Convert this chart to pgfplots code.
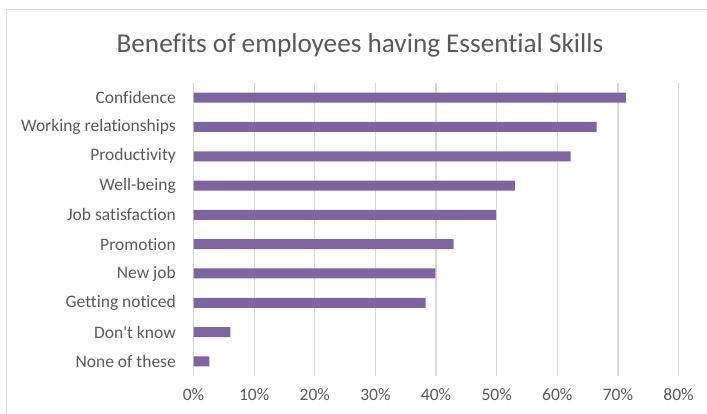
\documentclass[border=0pt]{standalone}
\usepackage{pgfplots}
\pgfplotsset{compat=1.18}
\usepackage{fontspec}
\setmainfont{Carlito}[Ligatures=NoCommon]
\definecolor{barc}{HTML}{8064A2}
\definecolor{gridc}{HTML}{D9D9D9}
\definecolor{txt}{HTML}{595959}
\begin{document}
\begin{tikzpicture}
\path[use as bounding box] (0,0) rectangle (707bp,414bp);
\draw[gridc, line width=1bp] (707bp,404bp) -- (6.5bp,404bp) -- (6.5bp,0);
\node[txt, font=\fontsize{27.2bp}{32bp}\selectfont, anchor=center] at (360bp,369bp) {Benefits of employees having Essential Skills};
\begin{axis}[
  at={(193.5bp,38bp)}, anchor=south west,
  scale only axis, width=485.1bp, height=293bp,
  xbar, bar width=10bp,
  xmin=0, xmax=80, ymin=-0.5, ymax=9.5,
  y dir=reverse,
  axis line style={draw=none},
  major tick length=0,
  xmajorgrids, grid style={gridc, line width=1.2bp},
  xtick={0,10,...,80},
  xticklabels={0\%,10\%,20\%,30\%,40\%,50\%,60\%,70\%,80\%},
  ytick={0,...,9},
  yticklabels={Confidence,Working relationships,Productivity,Well-being,Job satisfaction,Promotion,New job\hspace{5bp},Getting noticed\hspace{3.5bp},Don\textquotesingle t know,None of these},
  ticklabel style={font=\fontsize{17.5bp}{20bp}\selectfont, text=txt, inner sep=0pt},
  yticklabel style={anchor=east, xshift=-17.5bp},
  xticklabel style={anchor=north, yshift=-12.5bp},
]
\addplot[fill=barc, draw=none] coordinates {
(71.3,0) (66.5,1) (62.2,2) (53.0,3) (49.9,4) (42.9,5) (39.9,6) (38.3,7) (6.1,8) (2.6,9)
};
\end{axis}
\end{tikzpicture}
\end{document}
